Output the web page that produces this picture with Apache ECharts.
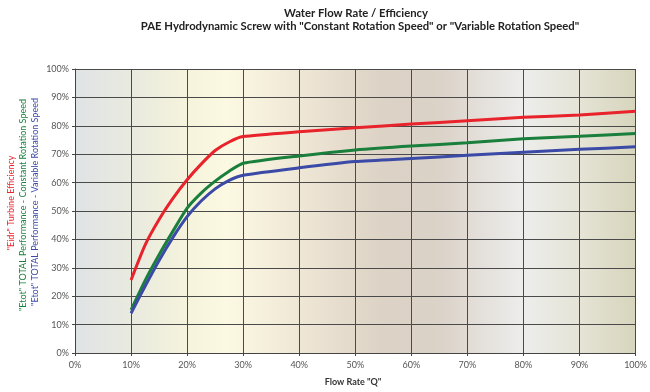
<!DOCTYPE html>
<html><head><meta charset="utf-8">
<script src="https://cdn.jsdelivr.net/npm/echarts@6/dist/echarts.min.js"></script>
<style>html,body{margin:0;padding:0;background:#fff}#c{width:650px;height:392px}</style>
</head><body><div id="c"></div>
<script>
const flowRate = [10, 12.5, 15, 17.5, 20, 22.5, 25, 27.5, 30, 40, 50, 60, 70, 80, 90, 100];
const eidrTurbine = [25.7, 38, 47, 54.5, 61, 66.5, 71.3, 74.3, 76.2, 77.9, 79.3, 80.6, 81.8, 83, 83.8, 85.1];
const etotConstant = [15.2, 25.5, 34.6, 43, 51, 56.3, 60.5, 64, 66.8, 69.4, 71.5, 72.9, 74, 75.4, 76.3, 77.3];
const etotVariable = [14, 23.5, 32.6, 40.8, 48, 53.5, 57.8, 60.8, 62.6, 65.2, 67.4, 68.5, 69.6, 70.7, 71.7, 72.6];
const titleText = 'Water Flow Rate / Efficiency';
const subtitleText = 'PAE Hydrodynamic Screw with "Constant Rotation Speed" or "Variable Rotation Speed"';
const xName = 'Flow Rate "Q"';
const yNames = ['"Eidr" Turbine Efficiency', '"Etot" TOTAL Performance - Constant Rotation Speed', '"Etot" TOTAL Performance - Variable Rotation Speed'];

const FONT = 'Lato';
const pair = (xs, ys) => xs.map((x, i) => [x, ys[i]]);
const chart = echarts.init(document.getElementById('c'));
const axisCommon = {
  type: 'value', min: 0, max: 100, interval: 10,
  axisLine: { show: true, lineStyle: { color: '#444', width: 1 } },
  axisTick: { show: true, length: 3, lineStyle: { color: '#444' } },
  splitLine: { show: true, lineStyle: { color: '#4a4a4a', width: 1 } },
  axisLabel: { formatter: '{value}%', color: '#555', fontFamily: FONT, fontSize: 9 }
};
const lineSeries = (name, ys, color) => ({
  name, type: 'line', data: pair(flowRate, ys), showSymbol: false, smooth: 0.2,
  lineStyle: { color, width: 3 }, itemStyle: { color }, z: 3
});
chart.setOption({
  animation: false,
  grid: {
    left: 75, right: 13, top: 69, bottom: 39, show: true, borderWidth: 0,
    backgroundColor: { type: 'linear', x: 0, y: 0, x2: 1, y2: 0, colorStops: [
      { offset: 0, color: '#dfe3e5' }, { offset: 0.1, color: '#e9eadf' },
      { offset: 0.2, color: '#f5f3dc' }, { offset: 0.27, color: '#fcf9e3' },
      { offset: 0.4, color: '#efe7d6' }, { offset: 0.55, color: '#dcd2c5' },
      { offset: 0.65, color: '#dbd2c8' }, { offset: 0.8, color: '#ededec' },
      { offset: 0.9, color: '#e5e4d6' }, { offset: 1, color: '#d7d5bc' }] }
  },
  xAxis: Object.assign({}, axisCommon, { axisLabel: Object.assign({}, axisCommon.axisLabel, { margin: 8 }) }),
  yAxis: Object.assign({}, axisCommon, { axisLabel: Object.assign({}, axisCommon.axisLabel, { margin: 6 }) }),
  series: [
    lineSeries('Eidr', eidrTurbine, '#e8232b'),
    lineSeries('Etot const', etotConstant, '#1a7f3c'),
    lineSeries('Etot var', etotVariable, '#3a4aa6')
  ],
  graphic: [
    { type: 'text', style: { text: titleText, x: 356, y: 13, align: 'center', verticalAlign: 'middle', font: `bold 11.3px ${FONT}`, fill: '#222' } },
    { type: 'text', style: { text: subtitleText, x: 360, y: 26, align: 'center', verticalAlign: 'middle', font: `bold 11.3px ${FONT}`, fill: '#222' } },
    { type: 'text', style: { text: xName, x: 353, y: 382, align: 'center', verticalAlign: 'middle', font: `bold 9px ${FONT}`, fill: '#333' } },
    { type: 'text', x: 11, y: 203, rotation: Math.PI / 2, style: { text: yNames[0], x: 0, y: 0, align: 'center', verticalAlign: 'middle', font: `9px ${FONT}`, fill: '#e8232b' } },
    { type: 'text', x: 23, y: 205, rotation: Math.PI / 2, style: { text: yNames[1], x: 0, y: 0, align: 'center', verticalAlign: 'middle', font: `9px ${FONT}`, fill: '#1a7f3c' } },
    { type: 'text', x: 35, y: 202, rotation: Math.PI / 2, style: { text: yNames[2], x: 0, y: 0, align: 'center', verticalAlign: 'middle', font: `9px ${FONT}`, fill: '#3a4aa6' } }
  ]
});
</script></body></html>
